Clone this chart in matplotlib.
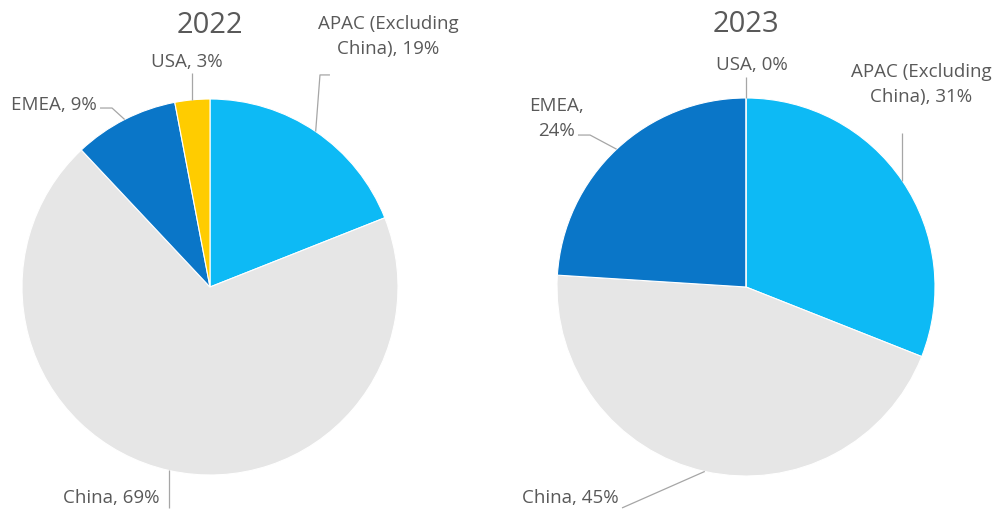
"""Regional revenue split, 2022 vs 2023 pies."""

import numpy as np
import matplotlib
matplotlib.use("Agg")
import matplotlib.pyplot as plt

plt.rcParams["font.family"] = ["Open Sans", "DejaVu Sans"]

regions = ["APAC (Excluding\nChina)", "China", "EMEA", "USA"]
short_names = ["APAC", "China", "EMEA", "USA"]
share_2022 = [19, 69, 9, 3]
share_2023 = [31, 45, 24, 0]
years = ["2022", "2023"]
colors = ["#0DBAF5", "#E6E6E6", "#0A76C8", "#FFCC00"]

TEXT = "#595959"
LINE = "#A6A6A6"

# leader line path (after the wedge-edge point) and label placement, radius units
label_layout = {
    "2022": {
        "APAC": dict(path=[(0.585, 1.128), (0.638, 1.128)], xy=(0.947, 1.330), ha="center"),
        "China": dict(path=[(None, -1.176)], xy=(-0.266, -1.122), ha="right"),
        "EMEA": dict(path=[(-0.521, 0.952), (-0.585, 0.952)], xy=(-0.601, 0.968), ha="right"),
        "USA": dict(path=[(None, 1.138)], xy=(-0.122, 1.197), ha="center"),
    },
    "2023": {
        "APAC": dict(path=[(None, 0.815)], xy=(0.926, 1.069), ha="center"),
        "China": dict(path=[(-0.656, -1.169)], xy=(-0.672, -1.116), ha="right"),
        "EMEA": dict(path=[(-0.825, 0.804), (-0.889, 0.804)], xy=(-1.005, 0.894), ha="center",
                     sep=",\n"),
        "USA": dict(path=[(None, 1.111)], xy=(0.032, 1.175), ha="center"),
    },
}

W, H = 997, 511
fig = plt.figure(figsize=(W / 100, H / 100), dpi=100)

# pie boxes in pixels: (left, top, size)
boxes = [(22, 99, 376), (557, 98, 378)]


def draw_pie(ax, values, year):
    wedges, _ = ax.pie(values, colors=colors, startangle=90, counterclock=False,
                       radius=1, wedgeprops=dict(edgecolor="white", linewidth=0.8))
    ax.set_xlim(-1, 1)
    ax.set_ylim(-1, 1)
    ax.text(0, 1.39, year, ha="center", va="center", fontsize=21, color=TEXT)

    for w, name, region, val in zip(wedges, short_names, regions, values):
        mid = np.deg2rad((w.theta1 + w.theta2) / 2)
        x0, y0 = np.cos(mid), np.sin(mid)
        spec = label_layout[year][name]
        xs, ys = [x0], [y0]
        for px, py in spec["path"]:
            xs.append(xs[-1] if px is None else px)
            ys.append(py)
        ax.plot(xs, ys, color=LINE, linewidth=0.9, clip_on=False, solid_capstyle="butt")
        sep = spec.get("sep", ", ")
        ax.text(spec["xy"][0], spec["xy"][1], f"{region}{sep}{val}%", ha=spec["ha"],
                va="center", multialignment="center", fontsize=13.5, color=TEXT,
                linespacing=1.5)


for (left, top, size), values, year in zip(boxes, [share_2022, share_2023], years):
    ax = fig.add_axes([left / W, (H - top - size) / H, size / W, size / H])
    draw_pie(ax, values, year)

fig.savefig("out.png", dpi=100, facecolor="white")
